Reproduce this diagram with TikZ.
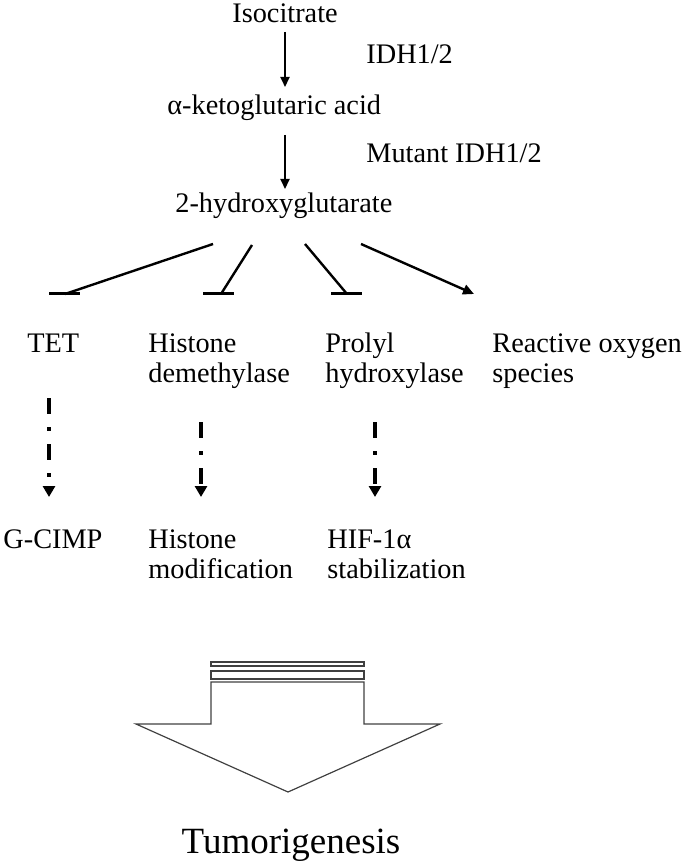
\documentclass[tikz,border=0pt]{standalone}
\usepackage{fontspec}
\setmainfont{Liberation Serif}
\usetikzlibrary{arrows.meta}
\begin{document}
\begin{tikzpicture}[x=0.5pt,y=-0.5pt,
  lbl/.style={inner sep=0pt,anchor=base west,align=left,font=\fontsize{14.15}{15}\selectfont},
  arr/.style={line width=1pt,-{Triangle[width=4.5pt,length=5pt]}},
  inh/.style={line width=1.2pt},
  bar/.style={line width=1.5pt},
  dda/.style={line width=2.25pt,dash pattern=on 8pt off 6.5pt on 2pt off 6.5pt,-{Triangle[width=6pt,length=5.5pt]}},
  big/.style={line width=0.6pt,draw=black!75}]
\useasboundingbox (0,0) rectangle (685,865);
% texts (multi-line nodes are anchored at the baseline of their last line)
\node[lbl] (iso) at (232,23) {Isocitrate};
\node[lbl] (akg) at (167,115) {α-ketoglutaric acid};
\node[lbl] (hga) at (175,213) {2-hydroxyglutarate};
\node[lbl] (idh) at (366,64) {IDH1/2};
\node[lbl] (midh) at (366,163) {Mutant IDH1/2};
\node[lbl] (tet) at (27,352) {TET};
\node[lbl] (hd) at (148,382) {Histone\\demethylase};
\node[lbl] (ph) at (325,382) {Prolyl\\hydroxylase};
\node[lbl] (ros) at (492,382) {Reactive oxygen\\species};
\node[lbl] (gcimp) at (3,548) {G-CIMP};
\node[lbl] (hm) at (148,578) {Histone\\modification};
\node[lbl] (hif) at (327,578) {HIF-1α\\stabilization};
\node[inner sep=0pt,anchor=base,font=\fontsize{18.5}{20}\selectfont] (tum) at (291,853) {Tumorigenesis};
% main arrows
\coordinate (a1s) at (285,32); \coordinate (a1e) at (285,87);
\coordinate (a2s) at (285,135); \coordinate (a2e) at (285,189);
\draw[arr] (a1s) -- (a1e);
\draw[arr] (a2s) -- (a2e);
% inhibition / activation lines
\coordinate (s1) at (213,244); \coordinate (e1) at (65,294);
\coordinate (s2) at (252,245); \coordinate (e2) at (221,294);
\coordinate (s3) at (305,244); \coordinate (e3) at (347,294);
\coordinate (s4) at (361,244); \coordinate (e4) at (474,294);
\draw[inh] (s1) -- (e1);
\draw[bar] (49,294) -- (80,294);
\draw[inh] (s2) -- (e2);
\draw[bar] (203,294) -- (234,294);
\draw[inh] (s3) -- (e3);
\draw[bar] (331,294) -- (362,294);
\draw[inh,-{Triangle[width=5pt,length=5.5pt]}] (s4) -- (e4);
% dash-dot arrows
\coordinate (d1s) at (49,398); \coordinate (d1e) at (49,497);
\coordinate (d2s) at (201,422); \coordinate (d2e) at (201,497);
\coordinate (d3s) at (375,422); \coordinate (d3e) at (375,497);
\draw[dda] (d1s) -- (d1e);
\draw[dda] (d2s) -- (d2e);
\draw[dda] (d3s) -- (d3e);
% big arrow
\draw[big] (211,662) rectangle (364,666);
\draw[big] (211,671) rectangle (364,679);
\draw[big] (211,682) -- (211,724) -- (136,724) -- (288,792) -- (440,724) -- (364,724) -- (364,682) -- cycle;
\end{tikzpicture}
\end{document}
